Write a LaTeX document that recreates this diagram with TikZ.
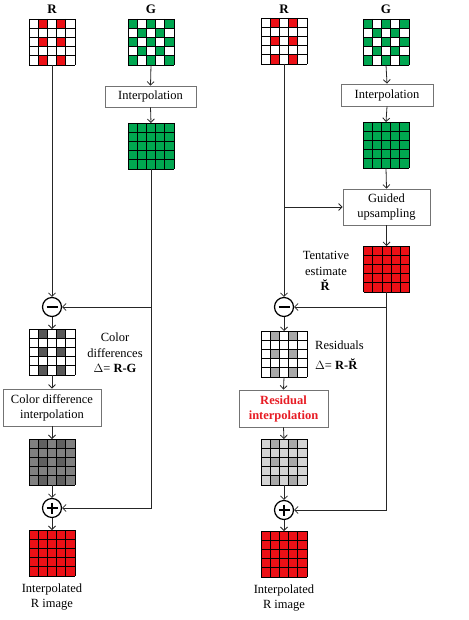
\documentclass[tikz,border=0pt]{standalone}
\usepackage{fontspec}
\setmainfont{Liberation Serif}
\usetikzlibrary{arrows.meta,calc}
\definecolor{rred}{RGB}{236,16,22}
\definecolor{ggreen}{RGB}{0,166,80}
\definecolor{rtext}{RGB}{232,28,36}
\definecolor{dgray}{RGB}{88,88,88}
\definecolor{mgray}{RGB}{128,128,128}
\definecolor{mgrayd}{RGB}{96,96,96}
\definecolor{lgray}{RGB}{168,168,168}
\definecolor{llgray}{RGB}{212,212,212}
\definecolor{llgrayd}{RGB}{168,168,168}
\tikzset{
  gridbox/.style={draw=none, minimum size=46pt, inner sep=0pt, outer sep=0pt},
  procbox/.style={draw=black!55, fill=white, line width=0.8pt, align=center,
    font=\fontsize{12.5}{15}\selectfont, inner sep=0pt},
  conn/.style={draw=black!85, line width=0.8pt},
  arr/.style={conn, -{Straight Barb[length=3.5pt,width=7pt]}},
  opnode/.style={circle, draw=black, line width=1.2pt, minimum size=19pt, inner sep=0pt},
  lbl/.style={font=\fontsize{12.5}{15.5}\selectfont, align=center, inner sep=0pt},
  title/.style={font=\bfseries\fontsize{13}{15}\selectfont, inner sep=0pt},
  sign/.style={line width=1.7pt}
}
\def\patR{1/0,3/0,1/2,3/2,1/4,3/4}
\def\patG{0/0,2/0,4/0,1/1,3/1,0/2,2/2,4/2,1/3,3/3,0/4,2/4,4/4}
\newcommand{\cellgrid}[4]{%
  \begin{scope}[shift={(#1.north west)}]
    \fill[#2] (0,0) rectangle (46,46);
    \foreach \cx/\ry in #4 {\fill[#3] (\cx*9.2,\ry*9.2) rectangle ++(9.2,9.2);}
    \foreach \i in {0,...,5}{%
      \draw[line width=0.8pt] (\i*9.2,0) -- (\i*9.2,46);
      \draw[line width=0.8pt] (0,\i*9.2) -- (46,\i*9.2);}
  \end{scope}}
\begin{document}
\begin{tikzpicture}[x=1pt,y=-1pt]
\useasboundingbox (0,0) rectangle (468,620);
% ---------- left column ----------
\node[title] (tR1) at (52,9) {R};
\node[title] (tG1) at (151,9) {G};
\node[gridbox] (R1) at (52,42) {};
\node[gridbox] (G1) at (151,42) {};
\node[procbox, minimum width=91pt, minimum height=21pt] (ib1) at (150.5,96.5) {Interpolation};
\node[gridbox] (GF1) at (151,146) {};
\node[opnode] (m1) at (52,307) {};
\node[gridbox] (CD1) at (52,352) {};
\node[lbl] (tcd) at (115,353) {Color\\differences\\$\Delta$= \textbf{R-G}};
\node[procbox, minimum width=98pt, minimum height=37pt] (cb1) at (52,407.5) {Color difference\\interpolation};
\node[gridbox] (GI1) at (52,462) {};
\node[opnode] (p1) at (52,508) {};
\node[gridbox] (RF1) at (52,553) {};
\node[lbl] (tout1) at (52,597) {Interpolated\\R image};
\cellgrid{R1}{white}{rred}{\patR}
\cellgrid{G1}{white}{ggreen}{\patG}
\cellgrid{GF1}{ggreen}{ggreen}{\patR}
\cellgrid{CD1}{white}{dgray}{\patR}
\cellgrid{GI1}{mgray}{mgrayd}{\patR}
\cellgrid{RF1}{rred}{rred}{\patR}
\draw[sign] ($(m1.center)+(-5.5,0)$) -- ($(m1.center)+(5.5,0)$);
\draw[sign] ($(p1.center)+(-5.5,0)$) -- ($(p1.center)+(5.5,0)$);
\draw[sign] ($(p1.center)+(0,-5.5)$) -- ($(p1.center)+(0,5.5)$);
\draw[arr] (R1.south) -- (m1.north);
\draw[arr] (G1.south) -- (ib1.north);
\draw[arr] (ib1.south) -- (GF1.north);
\draw[arr] (GF1.south) |- (p1.east);
\draw[arr] (GF1.south |- m1.east) -- (m1.east);
\draw[arr] (m1.south) -- (CD1.north);
\draw[arr] (CD1.south) -- (cb1.north);
\draw[arr] (cb1.south) -- (GI1.north);
\draw[arr] (GI1.south) -- (p1.north);
\draw[arr] (p1.south) -- (RF1.north);
% ---------- right column ----------
\node[title] (tR2) at (284,9) {R};
\node[title] (tG2) at (386,9) {G};
\node[gridbox] (R2) at (284,41) {};
\node[gridbox] (G2) at (386,42) {};
\node[procbox, minimum width=92pt, minimum height=22pt] (ib2) at (387,95) {Interpolation};
\node[gridbox] (GF2) at (386,145) {};
\node[procbox, minimum width=87pt, minimum height=36pt] (gu) at (386.5,207) {Guided\\upsampling};
\node[gridbox] (RT2) at (386.5,269) {};
\node[lbl] (ttent) at (326,271) {Tentative\\estimate\\\textbf{\u{R}}};
\node[opnode] (m2) at (284,307) {};
\node[gridbox] (RS2) at (284,354) {};
\node[lbl, align=left, anchor=west, font=\fontsize{12.5}{20}\selectfont] (tres) at (315,355) {Residuals\\$\Delta$= \textbf{R-\u{R}}};
\node[procbox, minimum width=89pt, minimum height=37pt, text=rtext, font=\bfseries\fontsize{12.5}{15}\selectfont] (rb2) at (283.5,408.5) {Residual\\interpolation};
\node[gridbox] (GI2) at (284,462) {};
\node[opnode] (p2) at (284,510) {};
\node[gridbox] (RF2) at (284,554) {};
\node[lbl] (tout2) at (284,598) {Interpolated\\R image};
\cellgrid{R2}{white}{rred}{\patR}
\cellgrid{G2}{white}{ggreen}{\patG}
\cellgrid{GF2}{ggreen}{ggreen}{\patR}
\cellgrid{RT2}{rred}{rred}{\patR}
\cellgrid{RS2}{white}{lgray}{\patR}
\cellgrid{GI2}{llgray}{llgrayd}{\patR}
\cellgrid{RF2}{rred}{rred}{\patR}
\draw[sign] ($(m2.center)+(-5.5,0)$) -- ($(m2.center)+(5.5,0)$);
\draw[sign] ($(p2.center)+(-5.5,0)$) -- ($(p2.center)+(5.5,0)$);
\draw[sign] ($(p2.center)+(0,-5.5)$) -- ($(p2.center)+(0,5.5)$);
\draw[arr] (R2.south) -- (m2.north);
\draw[arr] (R2.south |- gu.west) -- (gu.west);
\draw[arr] (G2.south) -- (ib2.north);
\draw[arr] (ib2.south) -- (GF2.north);
\draw[arr] (GF2.south) -- (gu.north);
\draw[arr] (gu.south) -- (RT2.north);
\draw[arr] (RT2.south) |- (p2.east);
\draw[arr] (RT2.south |- m2.east) -- (m2.east);
\draw[arr] (m2.south) -- (RS2.north);
\draw[arr] (RS2.south) -- (rb2.north);
\draw[arr] (rb2.south) -- (GI2.north);
\draw[arr] (GI2.south) -- (p2.north);
\draw[arr] (p2.south) -- (RF2.north);
\end{tikzpicture}
\end{document}
